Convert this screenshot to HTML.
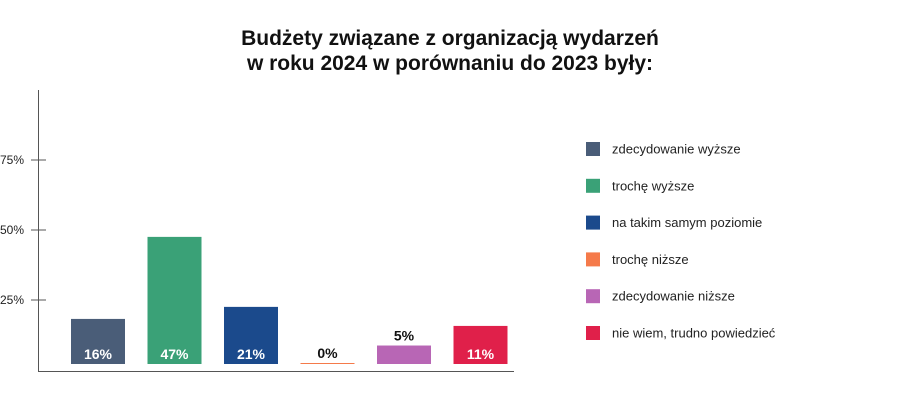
<!DOCTYPE html>
<html><head><meta charset="utf-8"><style>
html,body{margin:0;padding:0;background:#fff;}
body{width:900px;height:411px;overflow:hidden;font-family:"Liberation Sans",sans-serif;}
</style></head><body>
<svg width="900" height="411" xmlns="http://www.w3.org/2000/svg">
<g font-weight="bold" font-size="21" text-anchor="middle" fill="#111">
<text x="450" y="45">Budżety związane z organizacją wydarzeń</text>
<text x="450" y="70">w roku 2024 w porównaniu do 2023 były:</text>
</g>
<line x1="38.5" y1="90" x2="38.5" y2="371" stroke="#555" stroke-width="1"/>
<line x1="38" y1="371.5" x2="514" y2="371.5" stroke="#555" stroke-width="1"/>
<g id="ticks"></g>
<g id="bars"></g>
<g id="legend"></g>
</svg>
<script>
const categories = ["zdecydowanie wyższe","trochę wyższe","na takim samym poziomie","trochę niższe","zdecydowanie niższe","nie wiem, trudno powiedzieć"];
const values = [16.1, 45.4, 20.4, 0.3, 6.6, 13.6];
const labels = ["16%","47%","21%","0%","5%","11%"];
const colors = ["#4a5d78","#3aa177","#1b4a8c","#f57a4a","#b866b5","#e0204a"];
const tickValues = [25, 50, 75];
const tickLabels = ["25%","50%","75%"];

const NS = "http://www.w3.org/2000/svg";
const base = 364, pxPer = 2.8;
function y(v){ return base - v * pxPer; }
function yTick(v){ return 370 - v * 2.8; }
function x(i){ return 71 + i * 76.5; }
const bw = 54;

const tg = document.getElementById('ticks');
tickValues.forEach((t,i)=>{
  const l = document.createElementNS(NS,'line');
  
  
  l.setAttribute('x1',31); l.setAttribute('x2',46);
  l.setAttribute('y1',yTick(t)); l.setAttribute('y2',yTick(t));
  l.setAttribute('stroke','#555');
  tg.appendChild(l);
  const tx = document.createElementNS(NS,'text');
  
  
  tx.setAttribute('x',24); tx.setAttribute('y',yTick(t)+4);
  tx.setAttribute('text-anchor','end'); tx.setAttribute('font-size','12'); tx.setAttribute('fill','#222');
  tx.textContent = tickLabels[i];
  tg.appendChild(tx);
});

const bg = document.getElementById('bars');
values.forEach((v,i)=>{
  const r = document.createElementNS(NS,'rect');
  
  
  const top = Math.min(y(v), base-1);
  r.setAttribute('x',x(i)); r.setAttribute('y',top);
  r.setAttribute('width',bw); r.setAttribute('height',base-top);
  r.setAttribute('fill',colors[i]);
  bg.appendChild(r);
  const t = document.createElementNS(NS,'text');
  
  
  const inside = (base - y(v)) > 24;
  t.setAttribute('x',x(i)+bw/2);
  t.setAttribute('y', inside ? 359 : Math.min(y(v), base) - 5);
  t.setAttribute('text-anchor','middle'); t.setAttribute('font-size','14'); t.setAttribute('font-weight','bold');
  t.setAttribute('fill', inside ? '#fff' : '#111');
  t.textContent = labels[i];
  bg.appendChild(t);
});

const lg = document.getElementById('legend');
categories.forEach((c,i)=>{
  const cy = 149 + i*36.8;
  const s = document.createElementNS(NS,'rect');
  
  
  s.setAttribute('x',586); s.setAttribute('y',cy-7); s.setAttribute('width',14); s.setAttribute('height',14);
  s.setAttribute('fill',colors[i]);
  lg.appendChild(s);
  const t = document.createElementNS(NS,'text');
  
  
  t.setAttribute('x',612); t.setAttribute('y',cy+4.5);
  t.setAttribute('font-size','13'); t.setAttribute('fill','#222');
  t.textContent = c;
  lg.appendChild(t);
});
</script>
</body></html>
